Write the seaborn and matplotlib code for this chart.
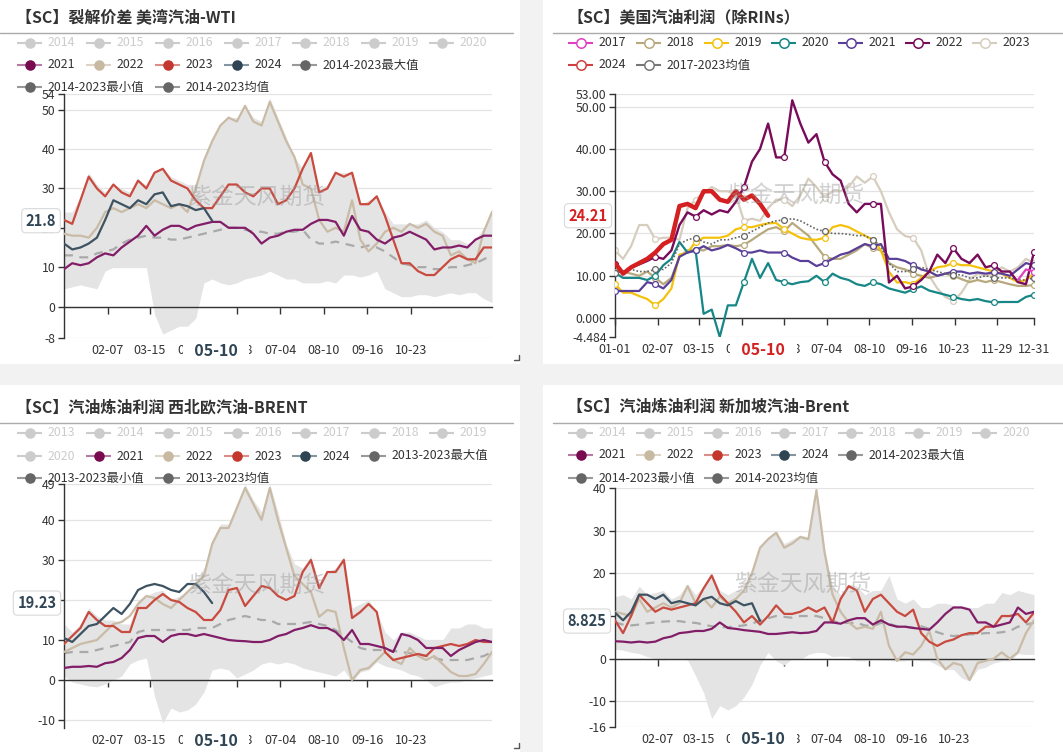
import numpy as np
import pandas as pd
import matplotlib
matplotlib.use("Agg")
import matplotlib.pyplot as plt
import seaborn as sns
from matplotlib.patches import Rectangle
from matplotlib.transforms import blended_transform_factory as btf

sns.set_theme(style="white")
plt.rcParams['font.family'] = ['Noto Sans CJK SC', 'DejaVu Sans']
plt.rcParams['axes.unicode_minus'] = False

# ---------------- data (weekly readings, day-of-year 0,7,...,364) ----------------
days = np.arange(0, 365, 7)
tick_labels = ["01-01", "02-07", "03-15", "04-21", "05-28", "07-04", "08-10", "09-16", "10-23", "11-29", "12-31"]
pointer_label = "05-10"

# Panel 1: 美湾汽油-WTI
p1_2021 = [9.5,11,10.5,11,12.5,13.5,13,15,16.5,18, 20.5,18,19.5,20.5,20.5,19.5,20.5,21,21.5,21.5,
           20,20,20,18.5,16,17.5,18,19,19.5,19.5, 21,22,22,21.5,18,23,19.5,19,17,16,
           17.5,18,19,18,17,14.5,15,15,15.5,15, 17,18,18]
p1_2022 = [18.5,18,18,17.5,20,24,25,24,25,26, 25,27,26,25,26,24,30,37,42,46,
           48,47,51,47,46,52,47,42,38,31, 30,22,19,20,19,27,17,14,16,19,
           20,19,21,20,21,19,18,13,14,12, 11,19,24]
p1_2023 = [22,21,27,33,30,28,31,29,28,32, 30,34,35,32,31,30,27,25,25,28,
           31,31,29,28,30,30,26,27,30,35, 39,29,30,34,33,34,26,26,28,23,
           17,11,11,9,8,8,10,12,13,12, 12,15,15]
p1_2024 = [16,14.5,15,16,17.5,22,27,26,25,27, 26,28.5,29,25.5,26,25.5,24.5,25,21.8]
p1_max = [24,24,28,34,31,29,31,30,29,32, 31,34,35,33,32,31,31,37,42,46,
          48,48,51,48,47,53,48,43,38,35, 39,30,31,34,34,34,26,27,28,24,
          21,21,21,21,22,20,19,17,17,16, 17,20,25]
p1_min = [4.5,5,5.5,5,4.5,9,10,10,10,10, 10,-2,-7,-6,-5,-5,-3,6,7,6,
          5.5,6,7,7.5,8,9,8,7,7,6, 6,6,6.5,6,8,8,7.5,8,9,4.5,
          3.5,2.5,2.5,3,3,2.5,3,3.5,3,3.5, 3.5,2,1]
p1_mean = [13,13,12.5,12.5,13.5,14,14.5,16,17,17.5, 18,17.5,17.5,17,17,17.5,18,18.5,19,19.5,
           20,20,19.5,19,19,18.5,18.5,19,19,19.5, 17,16,16,16.5,16,15.5,15,15.5,15,14,
           12.5,11,10.5,10,10,9.5,9.5,10,10,10.5, 11,12,13]

# Panel 2: 美国汽油利润（除RINs）
p2_2017 = [9, 11.5, 11]   # last three weeks only
p2_2018 = [11,11,10.5,10,11,9.5,8,9.5,14.5,16, 16.2,16,17,17,17.3,17,17.3,18.5,19.8,21,
           21.5,20.5,22.5,21,19.5,17,14.5,14,14,15, 16,17.5,16.5,16,13,12,11.5,10.5,10,9.5,
           10,10.5,10,9.2,8.5,9,8.5,9,8.5,8, 7.6,7.6,7.8]
p2_2019 = [8,6,6,5.2,4.5,3,4.5,7,15,15.5, 18,19,19,19,19.5,21,21.5,21.5,22,22.4,
           22.5,21,20,19,18.6,18.5,19,21.5,22,21.5, 20.5,19.5,18.5,16,11,8.4,8.5,8,9.5,11,
           12,12.3,13,12.5,12.5,12,11.5,11,10.5,9.5, 8.5,9,10.5]
p2_2020 = [10.7,9.5,9.5,9.5,9,10,12.5,14,18,15.5, 16,1,2,-4.48,3,3,8.5,14,9.5,13,
           9,8.5,8,8.5,8.7,10,8.5,10.5,9.5,9, 8,7.6,8.5,8,7,6.5,6,6.8,7.5,6.5,
           6,5.5,5,4.5,4.2,4.5,4,3.7,3.8,3.8, 3.8,5,5.5]
p2_2021 = [6.4,6.4,6.4,6.4,8.5,8,7,9,14.5,15.5, 16,17,16,16.5,17.3,16.5,15.5,15.5,16,15.5,
           15.5,15.5,14.3,13.5,13.5,12.3,13,14,15,15.5, 16.5,17.5,17,17.5,14,14,13.5,12.5,11.5,11,
           10,10.5,11,11,10.5,10.8,10.5,10.8,10.5,10, 11.5,13,12.5]
p2_2022 = [12.7,10.7,12,12.7,13.5,14.5,14,16,22,25, 24,25.5,24.5,25.5,25,27.5,31,37,40,46,
           38,38,51.5,46,41.5,43.5,37,34,32.5,27, 25,27,27,27,8.4,10,7,7.5,9,11,
           15,13,16.5,14,13,15,12,12.5,11,11, 8.5,8,15.6]
p2_2023 = [16,14,17,22,22,18.6,19,19,18.5,26, 28,29.5,31,30,30,29,23,23.5,23,26,
           28,28,26.5,29,33,31,28.5,30,30,31, 33.5,32,33.5,30,25,21,19.4,19,16,10,
           7,5,4,6,9,10.5,10,10.5,12,11, 12,14,13]
p2_2024 = [13,10.5,12,13,14,15.5,17.5,18.5,26.5,27, 26,30,30,28,27.5,30,28,29,27,24.21]
p2_mean = [10.7,11,11.5,11,11,11.5,11.5,13,17.5,18.5, 19,18,17.5,18.5,18.5,19,19.5,20.5,21.5,22.5,
           23,23.2,23.5,23,22,21,20.5,20,20,19.8, 19.5,19.5,18.5,17,13,11,11,11.5,12,11.5,
           11,10.5,10.3,10.2,9.5,9.5,10,9.5,9.5,9.5, 9,9,9.5]

# Panel 3: 西北欧汽油-BRENT
p3_2021 = [3,3.3,3.3,3.5,3.3,4.2,4.5,5.5,7.5,10.5, 11,11,9.5,11,11.5,11.5,11,11.5,11,10.5,
           10,9.8,9.7,9.5,9.5,10,11,11.5,12.5,13, 13.7,13,13,12,10,12.5,9,9,8.5,8,
           7,11.5,11,10,8,8,8,6,7.5,8.5, 9.5,10,9.5]
p3_2022 = [7,8,9,9.5,10,12,14,14.5,16,19, 21,20.5,19,18,20,22,24,26,34,38,
           38,43,48,44,40,48,40,33,26,24, 22,15.8,17.5,17,8,0,2.5,3,5,7,
           5,4,8,6,5,6,4,2,1,1, 1.5,4,7]
p3_2023 = [9,11,13,17,15,13.5,13.5,12,12,18, 18,20,21.5,20,19.5,18,17,15,15,17.5,
           22.5,23,18.5,21,23.5,23,21,20,21,27, 30,23,27,27,30,15.5,17,19,17,7,
           5,5.5,6,6.5,6,8,8.5,9,8.5,9, 10,9.5,9.5]
p3_2024 = [10.5,9.5,11.5,13.5,14,16,18,16.5,19,22.5, 23.5,24,23.5,22.5,22,24,24,22,19.23]
p3_max = [14,12,14,18,16,15,15,14,14,20, 21,22,22.5,20,21,22,25,28,35,39,
          39,44,49,45,42,49,42,34,29,28, 31,24,27,28,31,18,19,20,17,12,
          10,12,12,11,10,10,10,13,13,14, 14,13,13]
p3_min = [1,-0.5,-1,-1.5,-1.7,-1,0,1,4,5, 5.5,-4,-10.8,-7,-8,-7.5,-6,-3,2.5,3,
          2.5,0.5,1.5,2.5,4,4.5,4,4.5,4,3, 2.5,2,1.5,1,2.5,-0.5,2,2.5,4.5,3.5,
          3,2.5,1.5,1,0,-1.7,-1,-0.5,-0.5,0, 0.5,1,1.5]
p3_mean = [6.7,7,7,7,7.5,8,8.5,9,9.5,12, 12.5,12.5,12.5,12.5,12.5,12.5,13,13,13,14,
           15,15.5,16,15.5,15,15,14,14,14,14.2, 14.5,14,13.5,12.5,11,9.5,8,7.5,7.5,7.5,
           7.3,7,6.7,6.5,6,5.5,5,5,5,5, 5.5,6,7]

# Panel 4: 新加坡汽油-Brent
p4_2021 = [4.1,4,3.8,4,3.8,4,4.8,5.2,6,6.2, 6.5,6.5,7,8.5,7.2,7,6.7,6.5,6.3,5.8,
           5.8,6,6.2,6,6.1,6.5,8.5,8.5,8.2,9, 9.5,9.5,8,9,8,7.5,7.5,7.2,7,6.8,
           8.5,10.5,12,12,11.5,8.5,8.5,7.5,8,8.5, 12,10.5,11]
p4_2022 = [11,10.5,10,14,11,12,13,12,13,17, 13,14,12,14.5,13,14,16,20,26,28,
           29.5,26,27,28.5,28,39.5,25,15,11,8.5, 7,7.5,7,11,3,-0.5,1.5,1,3,6.5,
           0,-2.5,-1,-1.5,-5,-1,-0.5,0,1.5,0, 1.5,6,9]
p4_2023 = [9,6,10,15,13,11,12,11.5,12,12.5, 13,16.5,19.5,15,13,11,8.5,10,8,10,
           12.5,10.5,10.5,11,12,11,12,8.5,14,17, 16,11,14,15,13,11,10,11.5,6,4,
           3,4,4.5,5.5,6,6,7.5,7.5,10,10, 10.5,8.5,10.8]
p4_2024 = [10.8,9,11,15,15,14,15,13,13.5,13, 12.5,14,14.5,13,12.5,13.5,12.5,13,8.825]
p4_max = [14.5,15,14,17,15,15.5,16,14,15,17.5, 15,17,20,16,15,16,16.5,21,26.5,28.5,
          30,27,28,29,28.5,40,26,17,15,17.5, 17,15,16,16,19.5,14,13,14,12,12,
          13,13,12.5,12.5,12,12,13,13,15.5,15, 16,15.5,15]
p4_min = [2.2,2,1.5,1.2,0.5,0,-0.3,0,0,-0.3, -4,-8,-14,-11,-12,-11,-9,-6,-1.5,1.5,
          -0.5,-1.5,0,-0.2,1,1.5,1.4,0.5,0.6,0.5, -0.5,-0.5,-0.2,-0.3,-0.4,-0.6,-0.5,-0.2,-0.5,-0.5,
          -1.5,-2.5,-2.5,-4.5,-5.2,-2.5,-2,-1,-0.5,-0.5, 1.2,1,1]
p4_mean = [8.5,8,7.8,8,8.3,8.5,8.7,8.8,8.8,8.5, 8.4,8,7.6,7.4,7.4,7.6,7.8,8.2,9,9.5,
           10,9.8,9.6,10,10,10,9.5,8.8,8.4,8.4, 8.4,7.8,7.6,8.4,8.2,7.6,7.5,7.3,7.6,7,
           6.2,5.6,5.3,5.5,5.7,5.8,6,6,6.2,6.5, 7.5,8,8.4]

titles = ["【SC】裂解价差 美湾汽油-WTI", "【SC】美国汽油利润（除RINs）",
          "【SC】汽油炼油利润 西北欧汽油-BRENT", "【SC】汽油炼油利润 新加坡汽油-Brent"]
watermark = "紫金天风期货"

# ---------------- layout helpers ----------------
W, H = 1063, 752
fig = plt.figure(figsize=(W / 100, H / 100), dpi=100, facecolor='#f2f2f2')

bg = fig.add_axes([0, 0, 1, 1], zorder=0)
bg.set_xlim(0, W); bg.set_ylim(H, 0); bg.axis('off')
for (x, y, w, h) in [(0, 0, 520, 364), (543, 0, 520, 364), (0, 385, 520, 367), (543, 385, 520, 367)]:
    bg.add_patch(Rectangle((x, y), w, h, facecolor='white', edgecolor='none'))

top = fig.add_axes([0, 0, 1, 1], zorder=5)
top.set_xlim(0, W); top.set_ylim(H, 0); top.axis('off'); top.patch.set_alpha(0)

tick_days = [pd.Timestamp('2023-' + t).dayofyear - 1 for t in tick_labels]
ptr_day = pd.Timestamp('2023-' + pointer_label).dayofyear - 1

C21, C22, C23, C24 = '#821d68', '#c9bba6', '#c94a3f', '#3e5361'
FILL = '#e4e4e4'
MEAN = '#a9a9a9'


def make_ax(l, r, t, b, ylim, yticks, ylabels, show_idx, tick_idx, ptr_color):
    ax = fig.add_axes([l / W, 1 - b / H, (r - l) / W, (b - t) / H], zorder=2)
    ax.set_facecolor('none')
    ax.set_xlim(0, 364)
    ax.set_ylim(*ylim)
    for s in ['top', 'right']:
        ax.spines[s].set_visible(False)
    ax.spines['left'].set_color('#333333'); ax.spines['left'].set_linewidth(1)
    ax.spines['bottom'].set_position(('data', 0))
    ax.spines['bottom'].set_color('#333333'); ax.spines['bottom'].set_linewidth(1)
    ax.set_yticks(yticks)
    ax.set_yticklabels(ylabels)
    ax.tick_params(axis='y', left=True, direction='out', length=4, width=1, color='#333333',
                   labelsize=8.8, labelcolor='#333333', pad=2)
    ax.set_xticks([tick_days[i] for i in tick_idx])
    ax.tick_params(axis='x', bottom=True, direction='out', length=5, width=1, color='#333333',
                   labelbottom=False)
    ax.yaxis.grid(True, color='#e3e3e3', lw=0.9)
    ax.xaxis.grid(False)
    ax.set_axisbelow(True)
    tr = btf(ax.transData, ax.transAxes)
    for i in show_idx:
        ax.annotate(tick_labels[i], (tick_days[i], 0), xycoords=tr, xytext=(0, -9),
                    textcoords='offset points', ha='center', va='center', fontsize=9,
                    color='#333333', annotation_clip=False)
    ax.annotate("  " + pointer_label + "  ", (ptr_day, 0), xycoords=tr, xytext=(0, -9),
                textcoords='offset points', ha='center', va='center', fontsize=11.5,
                fontweight='bold', color=ptr_color, annotation_clip=False, zorder=30,
                bbox=dict(boxstyle='square,pad=0.25', fc='white', ec='none'))
    ax.set_xlabel(''); ax.set_ylabel('')
    return ax


def wm(ax, l, r, t, b, cx, cy):
    ax.text((cx - l) / (r - l), (b - cy) / (b - t), watermark, transform=ax.transAxes,
            ha='center', va='center', fontsize=16.5, color='#9a9a9a', alpha=0.45, zorder=12)


def ylabel_box(ax, xfrac, val, color):
    ax.text(xfrac, val, f"{val:g}", transform=btf(ax.transAxes, ax.transData), ha='center',
            va='center', fontsize=10.5, fontweight='bold', color=color, clip_on=False, zorder=30,
            bbox=dict(boxstyle='round,pad=0.28', fc='white', ec='#d9d9d9', lw=0.8))


def seasonal(ax, mx, mn, mean, y21, y22, y23, y24):
    ax.fill_between(days, mn, mx, color=FILL, lw=0, zorder=1)
    sns.lineplot(x=days, y=mean, ax=ax, color=MEAN, lw=1.6, linestyle=(0, (4, 3)), zorder=2)
    sns.lineplot(x=days, y=y22, ax=ax, color=C22, lw=1.6, zorder=3)
    sns.lineplot(x=days, y=y23, ax=ax, color=C23, lw=1.6, zorder=4)
    sns.lineplot(x=days, y=y21, ax=ax, color=C21, lw=1.6, zorder=5)
    sns.lineplot(x=days[:len(y24)], y=y24, ax=ax, color=C24, lw=1.6, zorder=6)


def leg(x, y, label, color, active=True, hollow=False, lcolor=None):
    if not active:
        color = lcolor = '#cccccc'
    lc = lcolor if lcolor else color
    top.plot([x, x + 25], [y, y], color=lc, lw=1.5, solid_capstyle='butt')
    if hollow:
        top.plot([x + 12.5], [y], marker='o', ms=6.8, mfc='white', mec=color, mew=1.1)
    else:
        top.plot([x + 12.5], [y], marker='o', ms=7.6, mfc=color, mec=color, mew=0)
    top.text(x + 31, y, label, ha='left', va='center', fontsize=8.9,
             color='#333333' if active else '#cccccc')


def title(x, y, text, x0, x1):
    top.text(x, y, text, ha='left', va='center', fontsize=11.5, fontweight='bold', color='#333333')
    top.plot([x0, x1], [y + 16, y + 16], color='#aaaaaa', lw=1)


# ---------------- Panel 1 ----------------
L, R, T, B = 64, 492, 94, 338
ax1 = make_ax(L, R, T, B, (-8, 54), [-8, 0, 10, 20, 30, 40, 50, 54],
              ['-8', '0', '10', '20', '30', '40', '50', '54'], range(1, 9), range(1, 9), '#2f4554')
seasonal(ax1, p1_max, p1_min, p1_mean, p1_2021, p1_2022, p1_2023, p1_2024)
wm(ax1, L, R, T, B, 257, 197)
ylabel_box(ax1, (41 - L) / (R - L), p1_2024[-1], '#2f4554')

# ---------------- Panel 2 ----------------
L2, R2, T2, B2 = 615, 1034, 94, 337
ax2 = make_ax(L2, R2, T2, B2, (-4.484, 53), [-4.484, 0, 10, 20, 30, 40, 50, 53],
              ['-4.484', '0.000', '10.00', '20.00', '30.00', '40.00', '50.00', '53.00'],
              range(0, 11), range(0, 11), '#d42020')
mk = [0, 5, 10, 16, 21, 26, 32, 37, 42, 47, 52]
p2_series = [(p2_2023, '#d6cdbf', 1.6), (p2_2018, '#b7a97c', 1.6), (p2_2019, '#f4c20d', 1.6),
             (p2_2020, '#168686', 1.6), (p2_2021, '#5a3f98', 1.6)]
z = 2
for vals, col, lw in p2_series:
    sns.lineplot(x=days, y=vals, ax=ax2, color=col, lw=lw, marker='o', markevery=mk, ms=4.2,
                 mfc='white', mec=col, mew=0.9, zorder=z)
    z += 1
sns.lineplot(x=days, y=p2_mean, ax=ax2, color='#666666', lw=1.2, linestyle=(0, (1, 1.2)),
             marker='o', markevery=mk, ms=4.2, mfc='white', mec='#666666', mew=0.9, zorder=z)
sns.lineplot(x=days, y=p2_2022, ax=ax2, color='#780b5a', lw=1.7, marker='o', markevery=mk, ms=4.2,
             mfc='white', mec='#780b5a', mew=0.9, zorder=z + 1)
sns.lineplot(x=days[-len(p2_2017):], y=p2_2017, ax=ax2, color='#e040c0', lw=1.6, marker='o',
             markevery=[len(p2_2017) - 1], ms=4.2, mfc='white', mec='#e040c0', mew=0.9, zorder=z + 2)
sns.lineplot(x=days[:len(p2_2024)], y=p2_2024, ax=ax2, color='#d42020', lw=3.2, zorder=z + 3)
wm(ax2, L2, R2, T2, B2, 796, 195)
ylabel_box(ax2, (588 - L2) / (R2 - L2), p2_2024[-1], '#d42020')

# ---------------- Panel 3 ----------------
L3, R3, T3, B3 = 64, 492, 484, 728
ax3 = make_ax(L3, R3, T3, B3, (-12, 49), [-10, 0, 10, 20, 30, 40, 49],
              ['-10', '0', '10', '20', '30', '40', '49'], range(1, 9), range(1, 9), '#2f4554')
seasonal(ax3, p3_max, p3_min, p3_mean, p3_2021, p3_2022, p3_2023, p3_2024)
wm(ax3, L3, R3, T3, B3, 257, 585)
ylabel_box(ax3, (37 - L3) / (R3 - L3), p3_2024[-1], '#2f4554')

# ---------------- Panel 4 ----------------
L4, R4, T4, B4 = 615, 1034, 488, 727
ax4 = make_ax(L4, R4, T4, B4, (-16, 40), [-16, -10, 0, 10, 20, 30, 40],
              ['-16', '-10', '0', '10', '20', '30', '40'], range(1, 9), range(1, 9), '#2f4554')
seasonal(ax4, p4_max, p4_min, p4_mean, p4_2021, p4_2022, p4_2023, p4_2024)
wm(ax4, L4, R4, T4, B4, 803, 584)
ylabel_box(ax4, (587 - L4) / (R4 - L4), p4_2024[-1], '#2f4554')

# ---------------- titles & legends ----------------
title(16, 17, titles[0], 0, 513)
title(567, 17, titles[1], 553, 1063)
title(16, 407, titles[2], 0, 513)
title(567, 407, titles[3], 553, 1063)

LX = [17, 86, 155, 224, 292, 361, 429]
RX = [568, 636, 704, 771, 838, 905, 972]
L21 = ('#7a0a4f', '#b679a3')
L22 = ('#c8b9a3', '#ddd3c6')
L23 = ('#c4372f', '#dc8d86')
L24 = ('#2f4554', '#8595a0')
LG = ('#666666', '#999999')

# panel 1
for i, yr in enumerate(range(2014, 2021)):
    leg(LX[i], 43, str(yr), '#cccccc', active=False)
for i, (lab, c) in enumerate([('2021', L21), ('2022', L22), ('2023', L23), ('2024', L24),
                              ('2014-2023最大值', LG)]):
    leg(LX[i], 65, lab, c[0], lcolor=c[1])
leg(LX[0], 87, '2014-2023最小值', LG[0], lcolor=LG[1])
leg(LX[2], 87, '2014-2023均值', LG[0], lcolor=LG[1])

# panel 2
p2_leg = [('2017', '#e040c0'), ('2018', '#b7a97c'), ('2019', '#f4c20d'), ('2020', '#168686'),
          ('2021', '#5a3f98'), ('2022', '#780b5a'), ('2023', '#d6cdbf')]
for i, (lab, c) in enumerate(p2_leg):
    leg(RX[i], 43, lab, c, hollow=True)
leg(RX[0], 65, '2024', '#d04040', hollow=True)
leg(RX[1], 65, '2017-2023均值', '#777777', hollow=True)

# panel 3
for i, yr in enumerate(range(2013, 2020)):
    leg(LX[i], 433, str(yr), '#cccccc', active=False)
leg(LX[0], 456, '2020', '#cccccc', active=False)
for i, (lab, c) in enumerate([('2021', L21), ('2022', L22), ('2023', L23), ('2024', L24),
                              ('2013-2023最大值', LG)]):
    leg(LX[i + 1], 456, lab, c[0], lcolor=c[1])
leg(LX[0], 478, '2013-2023最小值', LG[0], lcolor=LG[1])
leg(LX[2], 478, '2013-2023均值', LG[0], lcolor=LG[1])

# panel 4
for i, yr in enumerate(range(2014, 2021)):
    leg(RX[i], 433, str(yr), '#cccccc', active=False)
for i, (lab, c) in enumerate([('2021', L21), ('2022', L22), ('2023', L23), ('2024', L24),
                              ('2014-2023最大值', LG)]):
    leg(RX[i], 455, lab, c[0], lcolor=c[1])
leg(RX[0], 478, '2014-2023最小值', LG[0], lcolor=LG[1])
leg(RX[2], 478, '2014-2023均值', LG[0], lcolor=LG[1])

# small resize corner marks
for yy in (360, 748):
    top.plot([514, 519, 519], [yy, yy, yy - 5], color='#555555', lw=1)

fig.savefig('out.png', dpi=100, facecolor=fig.get_facecolor())
